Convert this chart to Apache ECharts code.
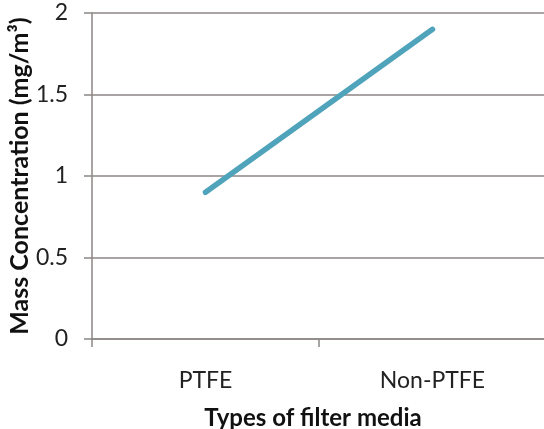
<!DOCTYPE html>
<html>
<head>
<meta charset="utf-8">
<script src="https://cdn.jsdelivr.net/npm/echarts@6/dist/echarts.min.js"></script>
<style>html,body{margin:0;padding:0;background:#fff}#c{width:544px;height:429px}</style>
</head>
<body>
<div id="c"></div>
<script>
const categories = ['PTFE', 'Non-PTFE'];
const massConcentration = [0.9, 1.9];
const yTicks = [0, 0.5, 1, 1.5, 2];

const gridColor = '#8c8684';
const font = 'Lato, Calibri, "Liberation Sans", sans-serif';
const chart = echarts.init(document.getElementById('c'));
chart.setOption({
  animation: false,
  grid: { left: 92, top: 13, width: 454, height: 326, containLabel: false, outerBoundsMode: 'none' },
  xAxis: {
    type: 'category',
    data: categories,
    boundaryGap: true,
    axisLine: { show: true, lineStyle: { color: gridColor, width: 1.5 } },
    axisTick: { show: true, alignWithLabel: false, interval: 0, length: 8, lineStyle: { color: gridColor, width: 1.5 } },
    axisLabel: { color: '#222', fontSize: 23, fontFamily: font, margin: 30 },
    name: 'Types of filter media',
    nameLocation: 'middle',
    nameGap: 67,
    nameMoveOverlap: false,
    nameTextStyle: { color: '#111', fontSize: 24, fontWeight: 'bold', fontFamily: font, padding: [0, 12, 0, 0] }
  },
  yAxis: {
    type: 'value',
    min: yTicks[0],
    max: yTicks[yTicks.length - 1],
    interval: 0.5,
    axisLine: { show: true, lineStyle: { color: gridColor, width: 1.5 } },
    axisTick: { show: true, length: 8, lineStyle: { color: gridColor, width: 1.5 } },
    axisLabel: { color: '#222', fontSize: 23, fontFamily: font, margin: 24 },
    splitLine: { show: true, lineStyle: { color: gridColor, width: 1.5 } },
    name: 'Mass Concentration (mg/m³)',
    nameLocation: 'middle',
    nameGap: 60,
    nameMoveOverlap: false,
    nameTextStyle: { color: '#111', fontSize: 25, fontWeight: 'bold', fontFamily: font }
  },
  series: [{
    type: 'line',
    data: massConcentration,
    symbol: 'none',
    lineStyle: { color: '#4fa3ba', width: 5.5, cap: 'round' }
  }]
});
</script>
</body>
</html>
